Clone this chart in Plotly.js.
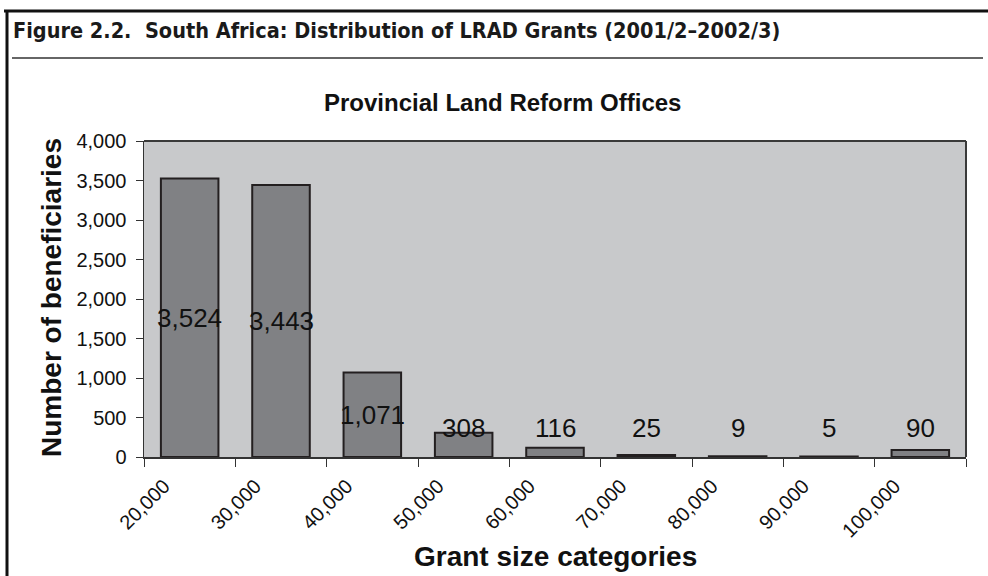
<!DOCTYPE html>
<html>
<head>
<meta charset="utf-8">
<script src="https://cdn.plot.ly/plotly-3.0.1.min.js"></script>
<style>
html,body{margin:0;padding:0;background:#fff;}
#chart{width:988px;height:576px;}
</style>
</head>
<body>
<div id="chart"></div>
<script>
// ---- data ----
const categories = ["20,000","30,000","40,000","50,000","60,000","70,000","80,000","90,000","100,000"];
const beneficiaries = [3524, 3443, 1071, 308, 116, 25, 9, 5, 90];
const valueLabels = ["3,524","3,443","1,071","308","116","25","9","5","90"];
const yTicks = [0,500,1000,1500,2000,2500,3000,3500,4000];

const figureTitle = "Figure 2.2.  South Africa: Distribution of LRAD Grants (2001/2\u20132002/3)";
const chartTitle = "Provincial Land Reform Offices";
const xTitle = "Grant size categories";
const yTitle = "Number of beneficiaries";

// ---- layout geometry (pixels) ----
const W = 988, H = 576;
const L = 144, R = 966, T = 141, B = 457;
const pw = R - L, ph = B - T;
const px = x => (x - L) / pw;
const py = y => (B - y) / ph;

const SANS = '"Liberation Sans", Arial, Helvetica, sans-serif';
const xs = categories.map((c, i) => i + 0.5);

const bars = {
  type: 'bar',
  x: xs,
  y: beneficiaries,
  width: 0.63,
  marker: {color: '#808184', line: {color: '#231f20', width: 2}},
  hoverinfo: 'skip'
};

const labelFloor = 362;
const annotations = beneficiaries.map((v, i) => ({
  x: xs[i], y: Math.max(v / 2, labelFloor), xref: 'x', yref: 'y',
  text: valueLabels[i], showarrow: false,
  font: {family: SANS, size: 26, color: '#111'},
  xanchor: 'center', yanchor: 'middle'
}));

annotations.push({
  xref: 'paper', yref: 'paper', x: px(11), y: py(31),
  xanchor: 'left', yanchor: 'middle', showarrow: false,
  text: '<b>' + figureTitle + '</b>',
  font: {family: '"DejaVu Sans Condensed", "Liberation Sans Narrow", sans-serif', size: 21.5, color: '#1a1a1a'}
});
annotations.push({
  xref: 'paper', yref: 'paper', x: px(502), y: py(102),
  xanchor: 'center', yanchor: 'middle', showarrow: false,
  text: '<b>' + chartTitle + '</b>',
  font: {family: SANS, size: 24, color: '#111'}
});
annotations.push({
  xref: 'paper', yref: 'paper', x: px(555), y: py(556),
  xanchor: 'center', yanchor: 'middle', showarrow: false,
  text: '<b>' + xTitle + '</b>',
  font: {family: SANS, size: 28, color: '#111'}
});
annotations.push({
  xref: 'paper', yref: 'paper', x: px(51), y: py(298),
  xanchor: 'center', yanchor: 'middle', showarrow: false, textangle: -90,
  text: '<b>' + yTitle + '</b>',
  font: {family: SANS, size: 28, color: '#111'}
});

const shapes = [
  // outer frame: top thick line and left line
  {type: 'line', xref: 'paper', yref: 'paper', x0: px(4), x1: px(988), y0: py(11), y1: py(11), line: {color: '#111', width: 3}},
  {type: 'line', xref: 'paper', yref: 'paper', x0: px(7), x1: px(7), y0: py(10), y1: py(576), line: {color: '#111', width: 3}},
  // rule under the figure title
  {type: 'line', xref: 'paper', yref: 'paper', x0: px(12), x1: px(983), y0: py(58), y1: py(58), line: {color: '#333', width: 1.5}},
  // plot border top/right
  {type: 'line', xref: 'paper', yref: 'paper', x0: 0, x1: 1, y0: 1, y1: 1, line: {color: '#3a3a3a', width: 2}},
  {type: 'line', xref: 'paper', yref: 'paper', x0: 1, x1: 1, y0: 0, y1: 1, line: {color: '#3a3a3a', width: 2}}
];

const layout = {
  width: W, height: H,
  margin: {l: L, r: W - R, t: T, b: H - B, pad: 0},
  paper_bgcolor: '#ffffff',
  plot_bgcolor: '#c8c9cb',
  showlegend: false,
  bargap: 0,
  xaxis: {
    range: [0, 9],
    tickmode: 'array',
    tickvals: categories.map((c, i) => i).concat([categories.length]),
    ticktext: categories.concat(['']),
    tickangle: -45,
    ticks: 'outside', ticklen: 8, tickwidth: 1, tickcolor: '#333',
    showline: true, linecolor: '#333', linewidth: 1.5,
    showgrid: false, zeroline: false,
    ticklabelshift: 20,
    tickfont: {family: SANS, size: 20, color: '#111'},
    fixedrange: true
  },
  yaxis: {
    range: [0, 4000],
    tickmode: 'array',
    tickvals: yTicks,
    ticktext: yTicks.map(v => v.toLocaleString('en-US')),
    ticks: 'outside', ticklen: 7, tickwidth: 1, tickcolor: '#333',
    showline: true, linecolor: '#333', linewidth: 1.5,
    showgrid: false, zeroline: false,
    ticklabelstandoff: 5,
    tickfont: {family: SANS, size: 20, color: '#111'},
    fixedrange: true
  },
  annotations: annotations,
  shapes: shapes
};

Plotly.newPlot('chart', [bars], layout, {displayModeBar: false, staticPlot: true});
</script>
</body>
</html>
